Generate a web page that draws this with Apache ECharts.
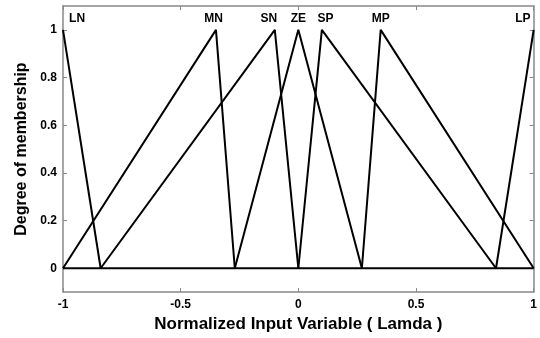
<!DOCTYPE html>
<html><head><meta charset="utf-8">
<script src="https://cdn.jsdelivr.net/npm/echarts@6/dist/echarts.min.js"></script>
<style>html,body{margin:0;padding:0;background:#fff}#c{width:540px;height:338px}</style>
</head><body><div id="c"></div>
<script>
// Membership functions (x breakpoints, membership values)
const LN = [[-1, 1], [-0.84, 0]];
const MN = [[-1, 0], [-0.35, 1], [-0.27, 0]];
const SN = [[-0.84, 0], [-0.1, 1], [0, 0]];
const ZE = [[-0.27, 0], [0, 1], [0.27, 0]];
const SP = [[0, 0], [0.1, 1], [0.84, 0]];
const MP = [[0.27, 0], [0.35, 1], [1, 0]];
const LP = [[0.84, 0], [1, 1]];
const baseLine = [[-1, 0], [1, 0]];
const setNames = ['LN', 'MN', 'SN', 'ZE', 'SP', 'MP', 'LP'];
const labelX = [-0.94, -0.36, -0.125, 0, 0.115, 0.35, 0.954];
const labelY = 1.047;
const xTicks = [-1, -0.5, 0, 0.5, 1];
const yTicks = [0, 0.2, 0.4, 0.6, 0.8, 1];

const font = '"Liberation Sans", Arial, sans-serif';
const lineStyle = {color: '#000', width: 2};
const mk = (d) => ({type: 'line', data: d, symbol: 'none', lineStyle: lineStyle, silent: true, animation: false});
const axLine = {show: true, onZero: false, lineStyle: {color: '#888', width: 1.5}};

const chart = echarts.init(document.getElementById('c'), null, {renderer: 'canvas'});
chart.setOption({
  animation: false,
  grid: {left: 63, right: 4, top: 6, bottom: 42},
  xAxis: [{
    type: 'value', min: -1, max: 1, interval: 0.5, position: 'bottom',
    axisLine: axLine,
    axisTick: {show: true, inside: true, length: 4, lineStyle: {color: '#888'}},
    axisLabel: {color: '#000', fontFamily: font, fontWeight: 'bold', fontSize: 12, margin: 7,
      formatter: v => xTicks.includes(v) ? String(v) : ''},
    splitLine: {show: false},
    name: 'Normalized Input Variable ( Lamda )', nameLocation: 'middle', nameGap: 15,
    nameTextStyle: {color: '#000', fontFamily: font, fontWeight: 'bold', fontSize: 17}
  }, {
    type: 'value', min: -1, max: 1, interval: 0.5, position: 'top',
    axisLine: axLine,
    axisTick: {show: true, inside: true, length: 4, lineStyle: {color: '#888'}},
    axisLabel: {show: false}, splitLine: {show: false}
  }],
  yAxis: [{
    type: 'value', min: -0.1, max: 1.1, position: 'left',
    axisLine: axLine,
    axisTick: {show: true, inside: true, length: 4, customValues: yTicks, lineStyle: {color: '#888'}},
    axisLabel: {color: '#000', fontFamily: font, fontWeight: 'bold', fontSize: 12, margin: 6,
      customValues: yTicks, formatter: v => String(Math.round(v * 10) / 10)},
    splitLine: {show: false},
    name: 'Degree of membership', nameLocation: 'middle', nameGap: 28, nameRotate: 90,
    nameTextStyle: {color: '#000', fontFamily: font, fontWeight: 'bold', fontSize: 16}
  }, {
    type: 'value', min: -0.1, max: 1.1, position: 'right',
    axisLine: axLine,
    axisTick: {show: true, inside: true, length: 4, customValues: yTicks, lineStyle: {color: '#888'}},
    axisLabel: {show: false}, splitLine: {show: false}
  }],
  series: [
    mk(baseLine), mk(LN), mk(MN), mk(SN), mk(ZE), mk(SP), mk(MP), mk(LP),
    {
      type: 'scatter', symbolSize: 0, itemStyle: {color: '#000', opacity: 1}, silent: true, animation: false,
      data: setNames.map((n, i) => ({value: [labelX[i], labelY], name: n})),
      label: {show: true, position: 'inside', formatter: p => p.name, color: '#000', opacity: 1,
        fontFamily: font, fontWeight: 'bold', fontSize: 12, textBorderWidth: 0}
    }
  ]
});
</script></body></html>
